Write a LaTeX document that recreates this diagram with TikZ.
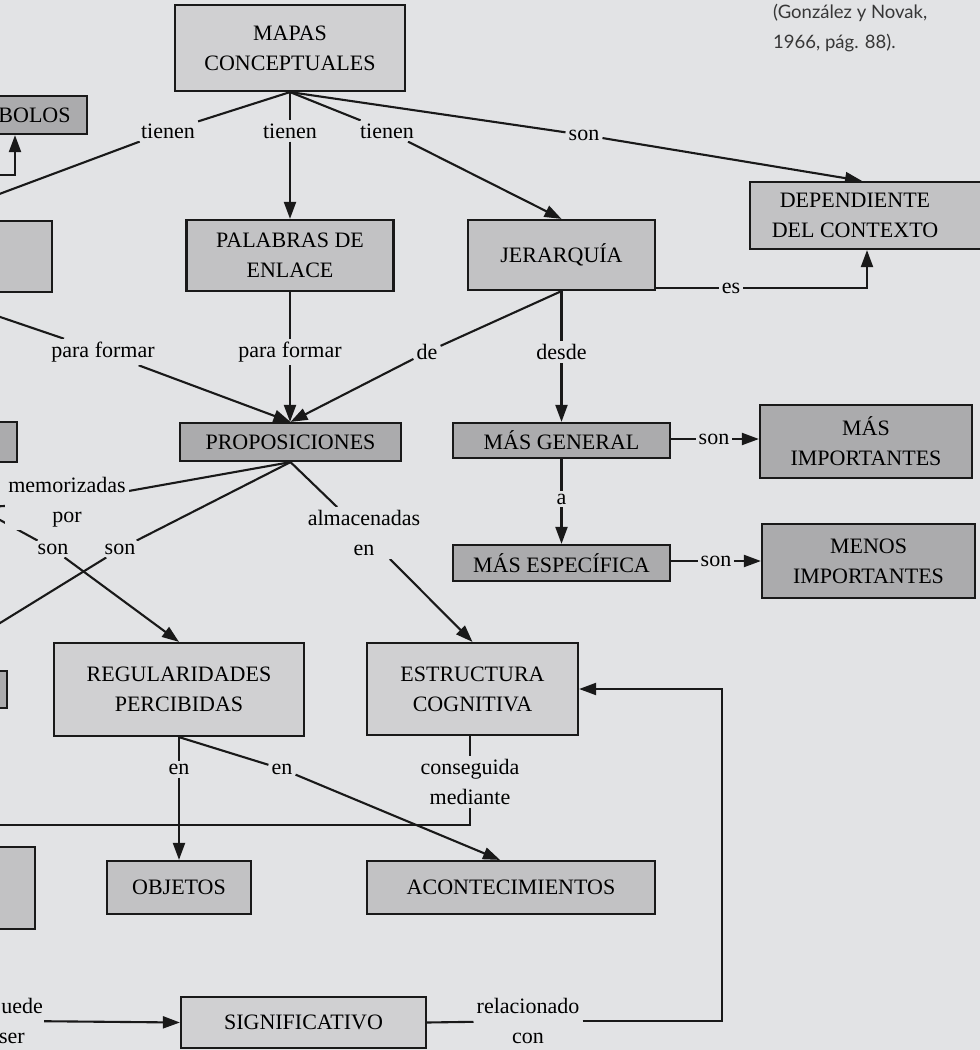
\documentclass[tikz,border=0pt]{standalone}
\usepackage{fontspec}
\setmainfont{Liberation Serif}
\newfontfamily\capfont{Lato}
\usetikzlibrary{arrows.meta,calc,backgrounds}
\definecolor{paper}{RGB}{226,227,229}
\definecolor{boxlight}{RGB}{208,208,210}
\definecolor{boxmid}{RGB}{194,194,196}
\definecolor{boxdark}{RGB}{171,171,173}
\definecolor{inkgray}{RGB}{55,55,55}
\pgfdeclarelayer{paperlayer}
\pgfsetlayers{paperlayer,background,main}
\newcommand{\mapfont}{\fontsize{22}{30}\selectfont}
\tikzset{
  concept/.style={draw=black!90, line width=2.2pt, inner sep=0pt, align=center, font=\mapfont},
  link/.style={align=center, fill=paper, inner sep=3pt, font=\mapfont},
  rel/.style={line width=2.1pt, draw=black!90},
  relarrow/.style={rel, -{Triangle[length=17pt,width=12pt]}},
}
\begin{document}
\begin{tikzpicture}[x=1pt, y=-1pt, line join=miter]
\useasboundingbox (0,0) rectangle (980,1050);
\begin{pgfonlayer}{paperlayer}
  \fill[paper] (0,0) rectangle (980,1050);
\end{pgfonlayer}
% conceptos
\node[concept, fill=boxlight, minimum width=230pt, minimum height=86pt] (mapas) at (290,48) {MAPAS\\CONCEPTUALES};
\node[concept, fill=boxdark, minimum width=144pt, minimum height=38pt] (simbolos) at (15,115) {\hphantom{SÍM}BOLOS};
\node[concept, fill=boxmid, minimum width=244pt, minimum height=71pt] (cutA) at (-70,256.5) {};
\node[concept, fill=boxmid, minimum width=207pt, minimum height=71pt] (palabras) at (290,255.5) {PALABRAS DE\\ENLACE};
\node[concept, fill=boxmid, minimum width=187pt, minimum height=70pt] (jerarquia) at (561.5,255) {JERARQUÍA};
\node[concept, fill=boxmid, minimum width=250pt, minimum height=67pt] (dep) at (875,215.5) {};
\node[align=center, font=\mapfont, inner sep=0pt] (dep_text) at (855,215.5) {DEPENDIENTE\\DEL CONTEXTO};
\node[concept, fill=boxdark, minimum width=242pt, minimum height=40pt] (cutB) at (-104,442) {};
\node[concept, fill=boxdark, minimum width=221pt, minimum height=38pt] (proposiciones) at (290.5,442) {PROPOSICIONES};
\node[concept, fill=boxdark, minimum width=217pt, minimum height=35pt] (masgeneral) at (561.5,440.5) {MÁS GENERAL};
\node[concept, fill=boxdark, minimum width=212pt, minimum height=73pt] (masimp) at (866,441.5) {MÁS\\IMPORTANTES};
\node[concept, fill=boxdark, minimum width=217pt, minimum height=36pt] (masesp) at (561.5,563) {MÁS ESPECÍFICA};
\node[concept, fill=boxdark, minimum width=213pt, minimum height=74pt] (menosimp) at (868.5,561) {MENOS\\IMPORTANTES};
\node[concept, fill=boxdark, minimum width=166pt, minimum height=37pt] (cutC) at (-76,689.5) {};
\node[concept, fill=boxlight, minimum width=250pt, minimum height=93pt] (regularidades) at (179,689.5) {REGULARIDADES\\PERCIBIDAS};
\node[concept, fill=boxlight, minimum width=211pt, minimum height=92pt] (estructura) at (472.5,689) {ESTRUCTURA\\COGNITIVA};
\node[concept, fill=boxmid, minimum width=190pt, minimum height=82pt] (cutD) at (-60,888) {};
\node[concept, fill=boxmid, minimum width=144pt, minimum height=53pt] (objetos) at (179,887.5) {OBJETOS};
\node[concept, fill=boxmid, minimum width=288pt, minimum height=53pt] (acontecimientos) at (511,887.5) {ACONTECIMIENTOS};
\node[concept, fill=boxlight, minimum width=245pt, minimum height=51pt] (significativo) at (303.5,1022.5) {SIGNIFICATIVO};
% palabras de enlace
\node[link] (l_tienen1) at (168,131) {tienen};
\node[link] (l_tienen2) at (290,131) {tienen};
\node[link] (l_tienen3) at (387,131) {tienen};
\node[link] (l_son1) at (584,135) {son};
\node[link] (l_es) at (731,288) {es};
\node[link] (l_pf1) at (103,352) {para formar};
\node[link] (l_pf2) at (290,352) {para formar};
\node[link] (l_de) at (427,352) {de};
\node[link] (l_desde) at (561.5,352) {desde};
\node[link] (l_son2) at (714,439) {son};
\node[link] (l_a) at (561.5,499) {a};
\node[link] (l_son3) at (716,561) {son};
\node[link] (l_memo) at (67,502) {memorizadas\\por};
\node[link] (l_son4) at (53,549) {son};
\node[link] (l_son5) at (120,549) {son};
\node[link] (l_alm) at (364,533) {almacenadas\\en};
\node[link] (l_en1) at (179,769) {en};
\node[link] (l_en2) at (282,769) {en};
\node[link] (l_cons) at (470,782) {conseguida\\mediante};
\node[link] (l_rel) at (528,1021) {relacionado\\con};
\node[link, align=right, anchor=east, inner xsep=1pt] (l_puede) at (44,1021) {uede\\ser\hspace*{18pt}};
\coordinate (simb_in) at (-60,175);
\coordinate (memo_out) at (-90,512);
\coordinate (cons_turn) at (-60,825);
\coordinate (rel_turn) at (722,1021);
% fuente
\node[anchor=north west, inner sep=0pt, align=left, text=inkgray, font=\capfont\fontsize{18.5}{30}\selectfont] (fuente) at (773,4) {(González y Novak,\\1966, pág. 88).};
% relaciones
\begin{pgfonlayer}{background}
  \draw[relarrow] (simb_in) -| (simbolos.south);
  \draw[rel] (mapas.south) -- (l_tienen1);
  \draw[relarrow] (l_tienen1) -- (cutA.north);
  \draw[rel] (mapas.south) -- (l_tienen2);
  \draw[relarrow] (l_tienen2) -- (palabras.north);
  \draw[rel] (mapas.south) -- (l_tienen3);
  \draw[relarrow] (l_tienen3) -- (jerarquia.north);
  \draw[rel] (mapas.south) -- (l_son1);
  \draw[relarrow] (l_son1) -- ([xshift=-13pt]dep.north);
  \draw[rel] (jerarquia.east |- l_es) -- (l_es);
  \draw[relarrow] (l_es) -| ([xshift=-8pt]dep.south);
  \draw[rel] (cutA.south) -- (l_pf1);
  \draw[relarrow] (l_pf1) -- (proposiciones.north);
  \draw[rel] (palabras.south) -- (l_pf2);
  \draw[relarrow] (l_pf2) -- (l_pf2 |- proposiciones.north);
  \draw[rel] (jerarquia.south) -- (l_de);
  \draw[relarrow] (l_de) -- (proposiciones.north);
  \draw[rel] (jerarquia.south) -- (l_desde);
  \draw[relarrow] (l_desde) -- (masgeneral.north);
  \draw[rel] (masgeneral.east |- l_son2) -- (l_son2);
  \draw[relarrow] (l_son2) -- (l_son2 -| masimp.west);
  \draw[rel] (masgeneral.south) -- (l_a);
  \draw[relarrow] (l_a) -- (masesp.north);
  \draw[rel] (masesp.east |- l_son3) -- (l_son3);
  \draw[relarrow] (l_son3) -- (l_son3 -| menosimp.west);
  \draw[rel] (proposiciones.south) -- (l_memo);
  \draw[relarrow] (l_memo) -- (memo_out);
  \draw[rel] (cutB.south) -- (l_son4);
  \draw[relarrow] (l_son4) -- (regularidades.north);
  \draw[rel] (proposiciones.south) -- (l_son5);
  \draw[relarrow] (l_son5) -- (cutC.north);
  \draw[rel] (proposiciones.south) -- (l_alm);
  \draw[relarrow] (l_alm) -- (estructura.north);
  \draw[rel] (regularidades.south) -- (l_en1);
  \draw[relarrow] (l_en1) -- (objetos.north);
  \draw[rel] (regularidades.south) -- (l_en2);
  \draw[relarrow] (l_en2) -- ([xshift=-11pt]acontecimientos.north);
  \draw[rel] (l_cons |- estructura.south) -- (l_cons);
  \draw[relarrow] (l_cons) |- (cons_turn) -- (cutD.north);
  \draw[relarrow] (l_puede) -- (significativo.west);
  \draw[rel] (significativo.east) -- (l_rel);
  \draw[relarrow] (l_rel) -- (rel_turn) |- (estructura.east);
\end{pgfonlayer}
\end{tikzpicture}
\end{document}
